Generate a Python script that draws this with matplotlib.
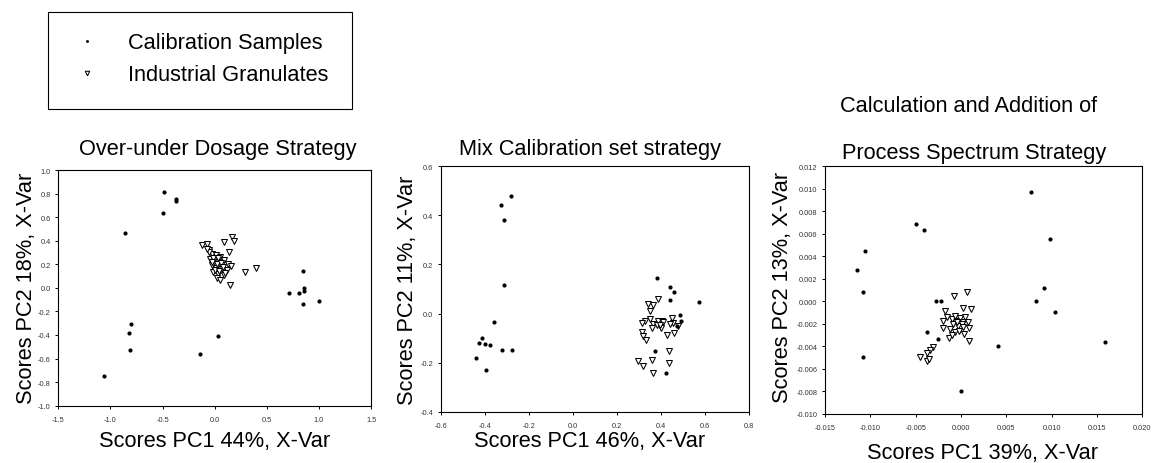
import matplotlib
matplotlib.use("Agg")
import matplotlib.pyplot as plt
from matplotlib.ticker import FormatStrFormatter
from matplotlib.patches import Rectangle

plt.rcParams['font.family'] = ['Liberation Sans', 'DejaVu Sans']
plt.rcParams['axes.unicode_minus'] = False

## Data
# Over-under dosage strategy
p1_cal_x = [-0.483, -0.374, -0.374, -0.496, -0.857, 0.851, 0.854, 0.854, 0.710, 0.812,
            0.847, 1.004, -0.803, -0.822, -0.812, 0.029, -0.144, -1.059]
p1_cal_y = [0.81, 0.75, 0.735, 0.635, 0.465, 0.146, 0.001, -0.024, -0.047, -0.041,
            -0.134, -0.112, -0.307, -0.386, -0.530, -0.409, -0.559, -0.745]
p1_gran_x = [-0.118, -0.076, 0.093, 0.170, 0.186, 0.138, -0.054, -0.028, 0.010, 0.052,
             0.093, -0.044, -0.003, 0.035, 0.131, 0.157, -0.028, 0.010, 0.068, 0.116,
             -0.013, 0.035, 0.093, 0.020, 0.052, 0.148, 0.291, 0.394, -0.05, -0.02,
             0.02, 0.06, 0.08, 0.00, 0.04, -0.03, 0.10, 0.03, -0.07]
p1_gran_y = [0.361, 0.374, 0.389, 0.431, 0.397, 0.304, 0.318, 0.290, 0.276, 0.261,
             0.239, 0.247, 0.233, 0.219, 0.199, 0.183, 0.191, 0.171, 0.162, 0.154,
             0.134, 0.120, 0.106, 0.086, 0.064, 0.026, 0.134, 0.171, 0.30, 0.25,
             0.20, 0.21, 0.18, 0.15, 0.14, 0.22, 0.13, 0.25, 0.33]

# Mix calibration set strategy
p2_cal_x = [-0.281, -0.326, -0.314, -0.311, -0.359, -0.414, -0.424, -0.397, -0.374, -0.322,
            -0.275, -0.438, -0.396, 0.384, 0.440, 0.460, 0.440, 0.575, 0.486, 0.493,
            0.472, 0.375, 0.425]
p2_cal_y = [0.480, 0.442, 0.381, 0.116, -0.033, -0.100, -0.120, -0.124, -0.127, -0.147,
            -0.147, -0.183, -0.232, 0.146, 0.108, 0.086, 0.056, 0.045, -0.006, -0.032,
            -0.052, -0.153, -0.241]
p2_gran_x = [0.388, 0.343, 0.363, 0.351, 0.329, 0.313, 0.351, 0.366, 0.358, 0.388,
             0.403, 0.384, 0.401, 0.411, 0.449, 0.456, 0.476, 0.460, 0.429, 0.313,
             0.317, 0.331, 0.437, 0.298, 0.320, 0.361, 0.437, 0.366, 0.396, 0.441]
p2_gran_y = [0.059, 0.039, 0.035, 0.012, -0.029, -0.039, -0.022, -0.043, -0.060, -0.029,
             -0.029, -0.047, -0.060, -0.036, -0.020, -0.039, -0.052, -0.079, -0.088, -0.074,
             -0.090, -0.107, -0.153, -0.192, -0.215, -0.188, -0.203, -0.243, -0.045, -0.043]

# Calculation and addition of process spectrum strategy
p3_cal_x = [0.00776, 0.00978, -0.0050, -0.00412, -0.01055, -0.01143, -0.01081, -0.01081, 0.00916,
            0.00824, 0.01037, 0.01588, 0.00408, 0.0000, -0.00272, -0.00221, -0.00371, -0.00257]
p3_cal_y = [0.00975, 0.00555, 0.00691, 0.00632, 0.00448, 0.00279, 0.00081, -0.00491, 0.00122,
            0.00001, -0.00094, -0.00357, -0.00396, -0.00796, 0.00004, 0.00004, -0.00271, -0.00334]
p3_gran_x = [-0.00074, 0.00063, -0.00176, 0.00026, 0.00107, -0.00202, -0.00158, -0.00103, -0.00066,
             -0.00040, -0.00011, 0.00018, 0.00044, 0.00081, -0.00085, -0.00029, -0.00202, -0.00121,
             -0.00066, -0.00018, 0.00037, 0.00088, -0.00132, -0.00096, 0.00088, -0.00305, -0.00342,
             -0.00371, -0.00452, -0.00379, -0.00353, 0.00007, -0.00048, 0.00018]
p3_gran_y = [0.00048, 0.00081, -0.00082, -0.00061, -0.00067, -0.00177, -0.00141, -0.00156, -0.00132,
             -0.00171, -0.00150, -0.00180, -0.00141, -0.00185, -0.00200, -0.00215, -0.00239, -0.00245,
             -0.00275, -0.00260, -0.00289, -0.00239, -0.00325, -0.00298, -0.00351, -0.00408, -0.00429,
             -0.00458, -0.00497, -0.00527, -0.00511, -0.00198, -0.00183, -0.00230]

titles = ["Over-under Dosage Strategy", "Mix Calibration set strategy",
          "Calculation and Addition of\nProcess Spectrum Strategy"]
xlabels = ["Scores PC1 44%, X-Var", "Scores PC1 46%, X-Var", "Scores PC1 39%, X-Var"]
ylabels = ["Scores PC2 18%, X-Var", "Scores PC2 11%, X-Var", "Scores PC2 13%, X-Var"]
xticks = [[-1.5, -1.0, -0.5, 0.0, 0.5, 1.0, 1.5],
          [-0.6, -0.4, -0.2, 0.0, 0.2, 0.4, 0.6, 0.8],
          [-0.015, -0.010, -0.005, 0.000, 0.005, 0.010, 0.015, 0.020]]
yticks = [[-1.0, -0.8, -0.6, -0.4, -0.2, 0.0, 0.2, 0.4, 0.6, 0.8, 1.0],
          [-0.4, -0.2, 0.0, 0.2, 0.4, 0.6],
          [-0.010, -0.008, -0.006, -0.004, -0.002, 0.000, 0.002, 0.004, 0.006, 0.008, 0.010, 0.012]]
tick_fmt = ['%.1f', '%.1f', '%.3f']
legend_labels = ["Calibration Samples", "Industrial Granulates"]

cal = [(p1_cal_x, p1_cal_y), (p2_cal_x, p2_cal_y), (p3_cal_x, p3_cal_y)]
gran = [(p1_gran_x, p1_gran_y), (p2_gran_x, p2_gran_y), (p3_gran_x, p3_gran_y)]

## Layout (pixel boxes: left, top, right, bottom)
W, H = 1152, 464
boxes = [(58.3, 171, 371, 406.7), (440.7, 167.3, 749, 412.7), (825, 167.3, 1142.3, 415)]
title_pos = [(0.509, 1.068), (0.484, 1.050), (0.471, 1.0335)]
xlab_pos = [(0.501, -0.171), (0.483, -0.140), (0.496, -0.178)]
ylab_pos = [(-0.085, 0.5), (-0.089, 0.5), (-0.116, 0.513)]

fig = plt.figure(figsize=(W / 100, H / 100), dpi=100)
FS = 15.7

handles = None
for i in range(3):
    l, t, r, b = boxes[i]
    ax = fig.add_axes([l / W, 1 - b / H, (r - l) / W, (b - t) / H])
    hg, = ax.plot(gran[i][0], gran[i][1], linestyle='none', marker='v', ms=4.6,
                  mfc='white', mec='black', mew=0.75, zorder=2)
    hc, = ax.plot(cal[i][0], cal[i][1], linestyle='none', marker='o', ms=3.0,
                  mfc='black', mec='black', mew=0, zorder=3)
    handles = [hc, hg]

    ax.set_xlim(xticks[i][0], xticks[i][-1])
    ax.set_ylim(yticks[i][0], yticks[i][-1])
    ax.set_xticks(xticks[i])
    ax.set_yticks(yticks[i])
    ax.xaxis.set_major_formatter(FormatStrFormatter(tick_fmt[i]))
    ax.yaxis.set_major_formatter(FormatStrFormatter(tick_fmt[i]))
    ax.tick_params(axis='both', direction='out', length=2.4, width=0.7,
                   labelsize=5.3, labelcolor='#333333')
    ax.tick_params(axis='x', pad=5)
    ax.tick_params(axis='y', pad=3)
    for sp in ax.spines.values():
        sp.set_linewidth(0.8)

    ax.set_xlabel(xlabels[i], fontsize=FS)
    ax.xaxis.set_label_coords(*xlab_pos[i])
    ax.xaxis.label.set_va('baseline')
    ax.set_ylabel(ylabels[i], fontsize=FS)
    ax.yaxis.set_label_coords(*ylab_pos[i])
    ax.yaxis.label.set_va('baseline')

    lines = titles[i].split('\n')
    tx, ty = title_pos[i]
    ax.text(tx, ty, lines[-1], transform=ax.transAxes, ha='center', va='baseline', fontsize=FS)
    if len(lines) > 1:
        ax.text(0.451, 1.222, lines[0], transform=ax.transAxes, ha='center',
                va='baseline', fontsize=FS)

## Legend box
fig.patches.append(Rectangle((48 / W, 1 - 110 / H), 304 / W, 97 / H, transform=fig.transFigure,
                             fill=False, edgecolor='black', linewidth=0.8))
fig.legend(handles, legend_labels, loc='upper left', bbox_to_anchor=(65 / W, 1 - 33.5 / H),
           frameon=False, fontsize=FS, borderpad=0, borderaxespad=0, labelspacing=0.5,
           handlelength=2.0, handletextpad=0.9, markerscale=0.7)

fig.savefig('out.png', dpi=100)
